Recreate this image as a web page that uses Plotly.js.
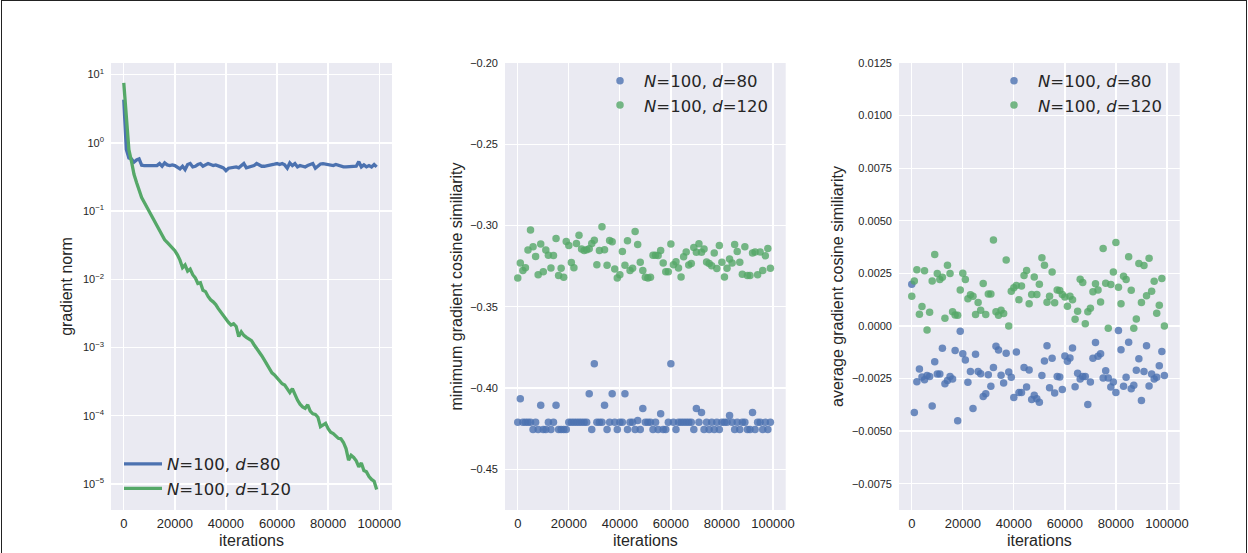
<!DOCTYPE html>
<html>
<head>
<meta charset="utf-8">
<script src="https://cdn.plot.ly/plotly-3.0.1.min.js"></script>
<style>
  html, body { margin: 0; padding: 0; background: #ffffff; }
  #chart { width: 1248px; height: 553px; position: relative; }
  #frame { position: absolute; left: 1px; top: 0px; width: 1244px; height: 600px;
           border: 1.5px solid #222; pointer-events: none; }
</style>
</head>
<body>
<div id="chart"></div>
<div id="frame"></div>
<script>
// ---------------- data ----------------
const iterations = [0,1000,2000,3000,4000,5000,6000,7000,8000,9000,
  10000,11000,12000,13000,14000,15000,16000,17000,18000,19000,
  20000,21000,22000,23000,24000,25000,26000,27000,28000,29000,
  30000,31000,32000,33000,34000,35000,36000,37000,38000,39000,
  40000,41000,42000,43000,44000,45000,46000,47000,48000,49000,
  50000,51000,52000,53000,54000,55000,56000,57000,58000,59000,
  60000,61000,62000,63000,64000,65000,66000,67000,68000,69000,
  70000,71000,72000,73000,74000,75000,76000,77000,78000,79000,
  80000,81000,82000,83000,84000,85000,86000,87000,88000,89000,
  90000,91000,92000,93000,94000,95000,96000,97000,98000,99000];

const seriesNames = ['<i>N</i>=100, <i>d</i>=80', '<i>N</i>=100, <i>d</i>=120'];

// gradient norm
const gradNormD80 = [4.3,0.80,0.60,0.58,0.52,0.56,0.58,0.47,0.465,0.465,
  0.465,0.465,0.47,0.465,0.497,0.454,0.508,0.475,0.465,0.475,
  0.465,0.444,0.416,0.454,0.406,0.481,0.497,0.444,0.454,0.481,
  0.497,0.454,0.475,0.497,0.481,0.465,0.475,0.465,0.444,0.430,
  0.392,0.425,0.430,0.440,0.444,0.430,0.465,0.497,0.430,0.444,
  0.454,0.465,0.497,0.481,0.454,0.454,0.465,0.465,0.475,0.487,
  0.497,0.481,0.497,0.475,0.425,0.508,0.465,0.497,0.444,0.465,
  0.454,0.444,0.465,0.481,0.497,0.425,0.465,0.490,0.497,0.487,
  0.481,0.475,0.465,0.481,0.465,0.454,0.444,0.444,0.444,0.444,
  0.450,0.454,0.530,0.444,0.475,0.444,0.465,0.444,0.481,0.444];

const gradNormD120 = [7.59,2.24,0.794,0.537,0.347,0.263,0.195,0.158,0.135,0.115,
  0.0955,0.0813,0.0708,0.0603,0.0513,0.0437,0.0380,0.0347,0.0316,0.0288,
  0.0263,0.0229,0.0191,0.0148,0.0162,0.0132,0.0141,0.0117,0.0105,0.00871,
  0.00891,0.00692,0.00661,0.00562,0.00501,0.00468,0.00427,0.00372,0.00331,0.00295,
  0.00257,0.00234,0.00214,0.00224,0.00204,0.00145,0.00170,0.00151,0.00141,0.00135,
  0.00126,0.00110,0.000955,0.000832,0.000759,0.000661,0.000575,0.000490,0.000427,0.000398,
  0.000363,0.000324,0.000295,0.000282,0.000245,0.000219,0.000251,0.000200,0.000170,0.000148,
  0.000135,0.000129,0.000145,0.000117,0.000107,0.000105,9.55e-5,6.92e-5,7.24e-5,7.76e-5,
  6.46e-5,5.75e-5,5.50e-5,5.01e-5,4.68e-5,4.60e-5,4.07e-5,3.31e-5,2.24e-5,2.63e-5,
  2.45e-5,2.19e-5,1.78e-5,2.04e-5,1.58e-5,1.51e-5,1.29e-5,1.17e-5,1.10e-5,8.3e-6];

// minimum gradient cosine similarity
const minCosD80 = [-0.421,-0.4066,-0.421,-0.421,-0.421,-0.421,-0.4255,-0.421,-0.4255,-0.4105,
  -0.4255,-0.4255,-0.421,-0.4255,-0.421,-0.4105,-0.4255,-0.4255,-0.4255,-0.4255,
  -0.421,-0.421,-0.421,-0.421,-0.421,-0.421,-0.421,-0.421,-0.4035,-0.4255,
  -0.385,-0.421,-0.421,-0.421,-0.4105,-0.4255,-0.421,-0.4035,-0.421,-0.4255,
  -0.421,-0.421,-0.4035,-0.4255,-0.421,-0.421,-0.4255,-0.420,-0.4255,-0.4126,
  -0.421,-0.421,-0.421,-0.4255,-0.421,-0.4255,-0.4158,-0.4255,-0.4255,-0.421,
  -0.385,-0.421,-0.4255,-0.421,-0.421,-0.421,-0.421,-0.421,-0.421,-0.4255,
  -0.4126,-0.421,-0.415,-0.4255,-0.421,-0.4255,-0.421,-0.4255,-0.421,-0.4255,
  -0.421,-0.421,-0.421,-0.4169,-0.421,-0.4255,-0.421,-0.4255,-0.421,-0.421,
  -0.4255,-0.4255,-0.415,-0.4255,-0.421,-0.421,-0.4255,-0.421,-0.4255,-0.421];

const minCosD120 = [-0.3322,-0.3231,-0.3277,-0.3259,-0.3151,-0.3027,-0.3131,-0.3190,-0.3302,-0.3114,
  -0.3284,-0.3151,-0.3182,-0.3261,-0.3184,-0.3080,-0.3308,-0.3263,-0.3318,-0.3098,
  -0.3122,-0.3228,-0.3259,-0.3110,-0.3059,-0.3145,-0.3153,-0.3149,-0.3143,-0.3110,
  -0.3090,-0.3241,-0.3153,-0.3008,-0.3149,-0.3245,-0.3092,-0.3100,-0.3267,-0.3322,
  -0.3302,-0.3159,-0.3245,-0.3094,-0.3277,-0.3263,-0.3037,-0.3116,-0.3226,-0.3277,
  -0.3318,-0.3322,-0.3318,-0.3182,-0.3182,-0.3184,-0.3153,-0.3231,-0.3284,-0.3284,
  -0.3114,-0.3241,-0.3222,-0.3261,-0.3316,-0.3192,-0.3163,-0.3243,-0.3233,-0.3135,
  -0.3165,-0.3112,-0.3165,-0.3145,-0.3224,-0.3233,-0.3247,-0.3169,-0.3265,-0.3122,
  -0.3226,-0.3316,-0.3263,-0.3206,-0.3231,-0.3116,-0.3159,-0.3226,-0.3300,-0.3131,
  -0.3308,-0.3308,-0.3169,-0.3163,-0.3302,-0.3163,-0.3277,-0.3186,-0.3141,-0.3263];

// average gradient cosine similarity
const avgCosD80 = [0.00198,-0.00411,-0.00265,-0.00205,-0.00243,-0.00256,-0.00236,-0.00240,-0.00381,-0.00170,
  -0.00229,-0.00229,-0.00106,-0.00275,-0.00259,-0.00240,-0.00252,-0.00117,-0.00451,-0.00025,
  -0.00132,-0.00162,-0.00268,-0.00216,-0.00392,-0.00135,-0.00217,-0.00227,-0.00335,-0.00322,
  -0.00232,-0.00287,-0.00198,-0.00097,-0.00114,-0.00235,-0.00271,-0.00130,-0.00219,-0.00244,
  -0.00340,-0.00124,-0.00317,-0.00317,-0.00197,-0.00290,-0.00209,-0.00350,-0.00330,-0.00346,
  -0.00363,-0.00236,-0.00167,-0.00094,-0.00294,-0.00154,-0.00319,-0.00240,-0.00243,-0.00302,
  -0.00143,-0.00168,-0.00152,-0.00105,-0.00289,-0.00225,-0.00252,-0.00240,-0.00240,-0.00373,
  -0.00267,-0.00154,-0.00079,-0.00144,-0.00132,-0.00248,-0.00213,-0.00248,-0.00290,-0.00267,
  -0.00317,-0.00022,-0.00113,-0.00287,-0.00244,-0.00078,-0.00298,-0.00282,-0.00211,-0.00156,
  -0.00355,-0.00217,-0.00094,-0.00286,-0.00229,-0.00252,-0.00244,-0.00189,-0.00122,-0.00236];

const avgCosD120 = [0.00141,0.00214,0.00267,0.00056,0.00092,0.00262,-0.00019,0.00065,0.00214,0.00340,
  0.00249,0.00221,0.00232,0.00037,0.00289,0.00249,0.00067,0.00052,0.00051,0.00171,
  0.00251,0.00221,0.00129,0.00148,0.00141,0.00054,0.00111,0.00075,0.00202,0.00054,
  0.00152,0.00152,0.00408,0.00067,0.00051,0.00075,0.00059,0.00313,0.00000,0.00165,
  0.00181,0.00192,0.00125,0.00190,0.00240,0.00263,0.00105,0.00149,0.00233,0.00149,
  0.00198,0.00324,0.00289,0.00113,0.00141,0.00257,0.00110,0.00171,0.00168,0.00149,
  0.00138,0.00094,0.00141,0.00125,0.00032,0.00070,0.00222,0.00206,0.00010,0.00068,
  0.00084,0.00162,0.00200,0.00171,0.00114,0.00368,0.00203,-0.00011,0.00197,0.00257,
  0.00397,0.00184,0.00105,0.00236,0.00221,0.00329,0.00170,-0.00011,0.00033,0.00297,
  0.00111,0.00287,0.00143,0.00322,0.00165,0.00213,0.00060,0.00098,0.00225,0.00000];

// tick labels
const logTickVals = [10, 1, 0.1, 0.01, 0.001, 0.0001, 0.00001];
const logTickText = ['10<sup>1</sup>','10<sup>0</sup>','10<sup>\u22121</sup>','10<sup>\u22122</sup>',
                     '10<sup>\u22123</sup>','10<sup>\u22124</sup>','10<sup>\u22125</sup>'];

// ---------------- style ----------------
const BLUE = '#4C72B0', GREEN = '#55A868';
const TXT = '#262626';
const FONT = 'Liberation Sans, Arial, sans-serif';
const LFONT = 'DejaVu Sans, sans-serif';

const traces = [
  {x: iterations, y: gradNormD80, type: 'scatter', mode: 'lines', name: seriesNames[0],
   line: {color: BLUE, width: 3.3}, xaxis: 'x', yaxis: 'y', legend: 'legend'},
  {x: iterations, y: gradNormD120, type: 'scatter', mode: 'lines', name: seriesNames[1],
   line: {color: GREEN, width: 3.3}, xaxis: 'x', yaxis: 'y', legend: 'legend'},
  {x: iterations, y: minCosD80, type: 'scatter', mode: 'markers', name: seriesNames[0],
   marker: {color: BLUE, size: 7.5, opacity: 0.8, line: {width: 0}}, xaxis: 'x2', yaxis: 'y2', legend: 'legend2'},
  {x: iterations, y: minCosD120, type: 'scatter', mode: 'markers', name: seriesNames[1],
   marker: {color: GREEN, size: 7.5, opacity: 0.8, line: {width: 0}}, xaxis: 'x2', yaxis: 'y2', legend: 'legend2'},
  {x: iterations, y: avgCosD80, type: 'scatter', mode: 'markers', name: seriesNames[0],
   marker: {color: BLUE, size: 7.5, opacity: 0.8, line: {width: 0}}, xaxis: 'x3', yaxis: 'y3', legend: 'legend3'},
  {x: iterations, y: avgCosD120, type: 'scatter', mode: 'markers', name: seriesNames[1],
   marker: {color: GREEN, size: 7.5, opacity: 0.8, line: {width: 0}}, xaxis: 'x3', yaxis: 'y3', legend: 'legend3'}
];

function xAx(domain, anchor) {
  return {
    domain: domain, anchor: anchor, range: [-5000, 105000],
    tick0: 0, dtick: 20000, tickformat: 'd',
    showgrid: true, gridcolor: '#ffffff', gridwidth: 1.3,
    zeroline: false, showline: false, ticks: '',
    ticklabelstandoff: 4,
    tickfont: {family: FONT, size: 13, color: TXT},
    title: {text: 'iterations', font: {family: FONT, size: 16, color: TXT}, standoff: 4},
    automargin: false, fixedrange: true
  };
}
function yAx(anchor, extra, title, standoff) {
  return Object.assign({
    anchor: anchor,
    showgrid: true, gridcolor: '#ffffff', gridwidth: 1.3,
    zeroline: false, showline: false, ticks: '',
    ticklabelstandoff: 6,
    tickfont: {family: FONT, size: 11, color: TXT},
    title: {text: title, font: {family: FONT, size: 16, color: TXT}, standoff: standoff},
    automargin: false, fixedrange: true
  }, extra);
}

const legendBase = {
  bgcolor: 'rgba(0,0,0,0)', borderwidth: 0,
  font: {family: LFONT, size: 16.5, color: TXT},
  xanchor: 'left', yanchor: 'top', traceorder: 'normal', tracegroupgap: 0,
  itemwidth: 38
};

const layout = {
  width: 1248, height: 553,
  margin: {l: 0, r: 0, t: 63, b: 43, pad: 0},
  paper_bgcolor: '#ffffff', plot_bgcolor: '#EAEAF2',
  showlegend: true,
  xaxis: xAx([111/1248, 392/1248], 'y'),
  xaxis2: xAx([505/1248, 785.7/1248], 'y2'),
  xaxis3: xAx([899/1248, 1179.7/1248], 'y3'),
  yaxis: yAx('x', {type: 'log', range: [-5.38, 1.17], tickvals: logTickVals, ticktext: logTickText}, 'gradient norm', 6),
  yaxis2: yAx('x2', {range: [-0.475, -0.20], tick0: 0, dtick: 0.05, tickformat: '.2f'}, 'minimum gradient cosine similiarity', 3),
  yaxis3: yAx('x3', {range: [-0.00875, 0.0125], tick0: 0, dtick: 0.0025, tickformat: '.4f'}, 'average gradient cosine similiarity', 4),
  legend: Object.assign({}, legendBase, {x: 119/1248, y: 0.1418}),
  legend2: Object.assign({}, legendBase, {x: 596/1248, y: 0.999}),
  legend3: Object.assign({}, legendBase, {x: 990/1248, y: 0.999})
};

Plotly.newPlot('chart', traces, layout, {displayModeBar: false, staticPlot: true});
</script>
</body>
</html>
